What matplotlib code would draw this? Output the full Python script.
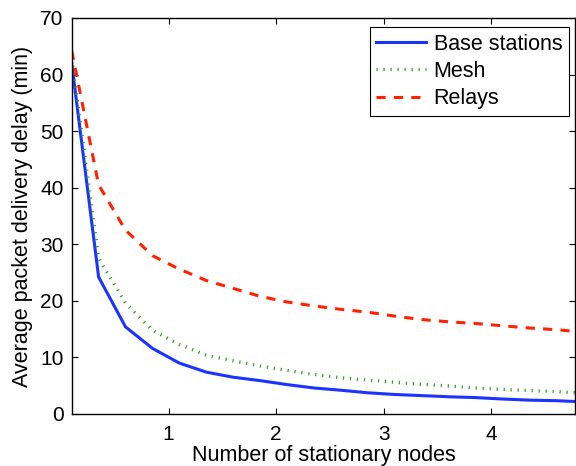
import matplotlib
matplotlib.use("Agg")
import matplotlib.pyplot as plt

plt.rcParams['font.family'] = ['Liberation Sans', 'DejaVu Sans']

# ---- data ----
nodes = [0.10, 0.35, 0.60, 0.85, 1.10, 1.35, 1.60, 1.85, 2.10, 2.35,
         2.60, 2.85, 3.10, 3.35, 3.60, 3.85, 4.10, 4.35, 4.60, 4.85]
base_stations = [62.0, 24.2, 15.4, 11.6, 9.0, 7.4, 6.5, 5.9, 5.2, 4.6,
                 4.2, 3.75, 3.45, 3.25, 3.05, 2.9, 2.65, 2.45, 2.35, 2.15]
mesh = [62.8, 27.5, 19.6, 14.8, 12.3, 10.4, 9.4, 8.5, 7.7, 7.0,
        6.4, 6.0, 5.6, 5.25, 4.95, 4.6, 4.35, 4.15, 3.95, 3.7]
relays = [64.2, 40.5, 32.5, 28.0, 25.6, 23.6, 22.2, 20.8, 19.8, 19.1,
          18.5, 18.0, 17.3, 16.7, 16.3, 16.0, 15.6, 15.2, 14.9, 14.5]
series_names = ["Base stations", "Mesh", "Relays"]
x_ticks = [1, 2, 3, 4]
y_ticks = [0, 10, 20, 30, 40, 50, 60, 70]

fig = plt.figure(figsize=(5.76, 4.66), dpi=100)
ax = fig.add_axes([0.1245, 0.1116, 0.8745, 0.8498])

ax.plot(nodes, base_stations, color=(0.1, 0.2, 1.0), lw=2.2,
        label=series_names[0], solid_joinstyle='miter')
ax.plot(nodes, mesh, color='#2e9a1e', lw=2.4, dashes=(0.35, 1.75),
        dash_capstyle='butt', label=series_names[1])
ax.plot(nodes, relays, color=(1.0, 0.13, 0.0), lw=2.2, dashes=(3.0, 2.7),
        dash_capstyle='butt', label=series_names[2])

ax.set_xlim(0.1, 4.78)
ax.set_ylim(0, 70)
ax.set_xticks(x_ticks)
ax.set_yticks(y_ticks)
ax.tick_params(direction='in', length=4, width=0.8, top=True, right=True,
               labelsize=15)
ax.tick_params(axis='x', pad=8)
ax.tick_params(axis='y', pad=6)
for s in ax.spines.values():
    s.set_linewidth(1.0)

ax.set_xlabel("Number of stationary nodes", fontsize=15.5, labelpad=1)
ax.set_ylabel("Average packet delivery delay (min)", fontsize=15.5, labelpad=5)

leg = ax.legend(loc='upper right', bbox_to_anchor=(0.9865, 0.977),
                fontsize=15.5, frameon=True, fancybox=False,
                edgecolor='black', framealpha=1, borderpad=0.3,
                handlelength=2.3, handletextpad=0.35, labelspacing=0.3,
                borderaxespad=0.0)
leg.get_frame().set_linewidth(0.8)

fig.savefig("out.png", dpi=100)
